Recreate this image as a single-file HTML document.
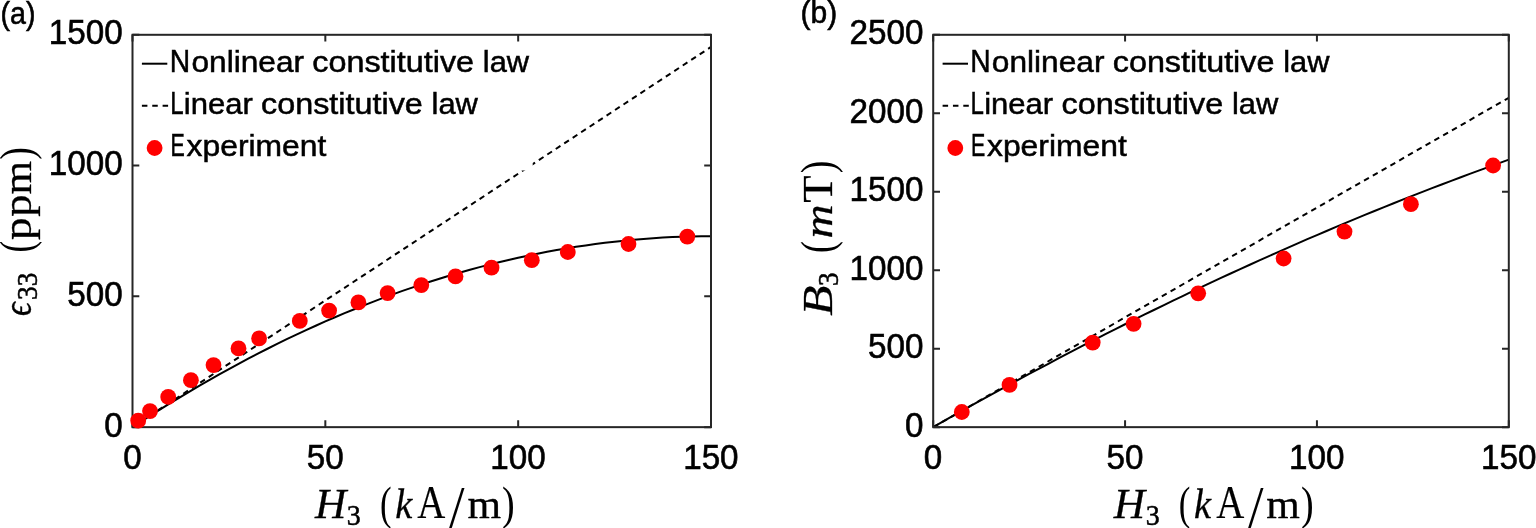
<!DOCTYPE html>
<html lang="en">
<head>
<meta charset="utf-8">
<title>Constitutive law comparison</title>
<style>
html,body{margin:0;padding:0;background:#fff;}
body{width:1536px;height:528px;overflow:hidden;}
svg{display:block;}
text{white-space:pre;}
</style>
</head>
<body>
<svg width="1536" height="528" viewBox="0 0 1536 528" font-family='"Liberation Sans", sans-serif' fill="#000">
<rect width="1536" height="528" fill="#fff"/>
<g id="plot-a">
<g fill="none" stroke="#000" stroke-width="2" stroke-linejoin="round">
<path d="M132.5 427.15 L142.14 420.87 L151.78 414.69 L161.43 408.61 L171.07 402.64 L180.71 396.78 L190.35 391.02 L199.99 385.37 L209.63 379.82 L219.28 374.38 L228.92 369.04 L238.56 363.81 L248.2 358.68 L257.84 353.66 L267.48 348.74 L277.12 343.93 L286.77 339.22 L296.41 334.62 L306.05 330.12 L315.69 325.73 L325.33 321.44 L334.98 317.26 L344.62 313.18 L354.26 309.21 L363.9 305.34 L373.54 301.58 L383.18 297.92 L392.82 294.37 L402.47 290.93 L412.11 287.58 L421.75 284.35 L431.39 281.22 L441.03 278.19 L450.68 275.27 L460.32 272.45 L469.96 269.74 L479.6 267.14 L489.24 264.64 L498.88 262.24 L508.52 259.95 L518.17 257.77 L527.81 255.68 L537.45 253.71 L547.09 251.84 L556.73 250.07 L566.38 248.41 L576.02 246.86 L585.66 245.41 L595.3 244.07 L604.94 242.83 L614.58 241.69 L624.23 240.66 L633.87 239.74 L643.51 238.92 L653.15 238.21 L662.79 237.6 L672.43 237.09 L682.08 236.69 L691.72 236.4 L701.36 236.21 L711 236.13"/>
<path d="M132.5 427.15 L711 46.96" stroke-dasharray="5.6 4.53"/>
</g>
<rect x="140" y="44" width="392.7" height="126.5" fill="#fff"/>
<g fill="none" stroke="#262626" stroke-width="2">
<rect x="132.5" y="34.8" width="578.5" height="392.35"/>
<path d="M132.5 427.15v-6.8M132.5 34.8v6.8M325.33 427.15v-6.8M325.33 34.8v6.8M518.17 427.15v-6.8M518.17 34.8v6.8M711 427.15v-6.8M711 34.8v6.8M132.5 427.15h6.8M711 427.15h-6.8M132.5 296.37h6.8M711 296.37h-6.8M132.5 165.58h6.8M711 165.58h-6.8M132.5 34.8h6.8M711 34.8h-6.8"/>
</g>
<g fill="#f00">
<circle cx="138.2" cy="420.7" r="7.9"/>
<circle cx="150" cy="411.1" r="7.9"/>
<circle cx="168.2" cy="396.9" r="7.9"/>
<circle cx="190.9" cy="380.2" r="7.9"/>
<circle cx="213.5" cy="365.1" r="7.9"/>
<circle cx="238.5" cy="348.4" r="7.9"/>
<circle cx="259.1" cy="338.4" r="7.9"/>
<circle cx="299.8" cy="320.9" r="7.9"/>
<circle cx="329.1" cy="310.6" r="7.9"/>
<circle cx="358.4" cy="302.4" r="7.9"/>
<circle cx="387.6" cy="293.1" r="7.9"/>
<circle cx="421.3" cy="285.1" r="7.9"/>
<circle cx="455.5" cy="276.4" r="7.9"/>
<circle cx="491.5" cy="267.7" r="7.9"/>
<circle cx="531.8" cy="260.2" r="7.9"/>
<circle cx="567.8" cy="252" r="7.9"/>
<circle cx="628.5" cy="244" r="7.9"/>
<circle cx="687.3" cy="236.6" r="7.9"/>
</g>
<g class="legend">
<path d="M141.9 63.7h25.4" stroke="#000" stroke-width="2" fill="none"/>
<path d="M141.9 105.8h26.2" stroke="#000" stroke-width="1.9" stroke-dasharray="5.5 4.85" fill="none"/>
<circle cx="154.6" cy="148" r="7.9" fill="#f00"/>
<text y="72" font-size="29.8" stroke="#000" stroke-width="0.5"><tspan x="169.84" font-size="32" textLength="20.41" lengthAdjust="spacingAndGlyphs">N</tspan><tspan x="191.46" textLength="112.59" lengthAdjust="spacingAndGlyphs">onlinear</tspan> <tspan x="312.34" textLength="161.72" lengthAdjust="spacingAndGlyphs">constitutive</tspan> <tspan x="482.83" textLength="46.2" lengthAdjust="spacingAndGlyphs">law</tspan></text>
<text y="114" font-size="29.8" stroke="#000" stroke-width="0.5"><tspan x="170.17" font-size="32" textLength="13.38" lengthAdjust="spacingAndGlyphs">L</tspan><tspan x="183.81" textLength="68.99" lengthAdjust="spacingAndGlyphs">inear</tspan> <tspan x="261.09" textLength="161.72" lengthAdjust="spacingAndGlyphs">constitutive</tspan> <tspan x="431.57" textLength="46.3" lengthAdjust="spacingAndGlyphs">law</tspan></text>
<text y="156" font-size="29.8" stroke="#000" stroke-width="0.5"><tspan x="170.48" font-size="32" textLength="14.27" lengthAdjust="spacingAndGlyphs">E</tspan><tspan x="186.6" textLength="139.74" lengthAdjust="spacingAndGlyphs">xperiment</tspan></text>
</g>
<g class="ticks">
<text y="436.55" font-size="35" stroke="#000" stroke-width="0.6"><tspan x="104.25" textLength="18.47" lengthAdjust="spacingAndGlyphs">0</tspan></text>
<text y="305.77" font-size="35" stroke="#000" stroke-width="0.6"><tspan x="67.31" textLength="55.42" lengthAdjust="spacingAndGlyphs">500</tspan></text>
<text y="174.98" font-size="35" stroke="#000" stroke-width="0.6"><tspan x="48.84" textLength="73.89" lengthAdjust="spacingAndGlyphs">1000</tspan></text>
<text y="44.2" font-size="35" stroke="#000" stroke-width="0.6"><tspan x="48.84" textLength="73.89" lengthAdjust="spacingAndGlyphs">1500</tspan></text>
<text y="468.6" font-size="35" stroke="#000" stroke-width="0.6"><tspan x="123.16" textLength="18.47" lengthAdjust="spacingAndGlyphs">0</tspan></text>
<text y="468.6" font-size="35" stroke="#000" stroke-width="0.6"><tspan x="306.76" textLength="36.95" lengthAdjust="spacingAndGlyphs">50</tspan></text>
<text y="468.6" font-size="35" stroke="#000" stroke-width="0.6"><tspan x="490.33" textLength="55.42" lengthAdjust="spacingAndGlyphs">100</tspan></text>
<text y="468.6" font-size="35" stroke="#000" stroke-width="0.6"><tspan x="683.17" textLength="55.42" lengthAdjust="spacingAndGlyphs">150</tspan></text>
</g>
</g>
<g id="plot-b">
<g fill="none" stroke="#000" stroke-width="2" stroke-linejoin="round">
<path d="M933.2 427.15 L942.79 421.68 L952.39 416.24 L961.98 410.84 L971.57 405.47 L981.17 400.13 L990.76 394.83 L1000.35 389.57 L1009.95 384.34 L1019.54 379.14 L1029.13 373.98 L1038.73 368.85 L1048.32 363.76 L1057.91 358.7 L1067.51 353.67 L1077.1 348.68 L1086.69 343.72 L1096.29 338.8 L1105.88 333.91 L1115.47 329.06 L1125.07 324.24 L1134.66 319.46 L1144.25 314.71 L1153.85 309.99 L1163.44 305.31 L1173.03 300.66 L1182.63 296.05 L1192.22 291.47 L1201.81 286.92 L1211.41 282.41 L1221 277.94 L1230.59 273.5 L1240.19 269.09 L1249.78 264.72 L1259.37 260.38 L1268.97 256.08 L1278.56 251.81 L1288.15 247.57 L1297.75 243.37 L1307.34 239.2 L1316.93 235.07 L1326.53 230.98 L1336.12 226.91 L1345.71 222.88 L1355.31 218.89 L1364.9 214.93 L1374.49 211 L1384.09 207.11 L1393.68 203.25 L1403.27 199.43 L1412.87 195.64 L1422.46 191.89 L1432.05 188.17 L1441.65 184.48 L1451.24 180.83 L1460.83 177.21 L1470.43 173.63 L1480.02 170.08 L1489.61 166.57 L1499.21 163.09 L1508.8 159.65"/>
<path d="M933.2 427.15 L1508.8 97.81" stroke-dasharray="5.6 4.53"/>
</g>
<rect x="940.7" y="44" width="392.7" height="126.5" fill="#fff"/>
<g fill="none" stroke="#262626" stroke-width="2">
<rect x="933.2" y="34.8" width="575.6" height="392.35"/>
<path d="M933.2 427.15v-6.8M933.2 34.8v6.8M1125.07 427.15v-6.8M1125.07 34.8v6.8M1316.93 427.15v-6.8M1316.93 34.8v6.8M1508.8 427.15v-6.8M1508.8 34.8v6.8M933.2 427.15h6.8M1508.8 427.15h-6.8M933.2 348.68h6.8M1508.8 348.68h-6.8M933.2 270.21h6.8M1508.8 270.21h-6.8M933.2 191.74h6.8M1508.8 191.74h-6.8M933.2 113.27h6.8M1508.8 113.27h-6.8M933.2 34.8h6.8M1508.8 34.8h-6.8"/>
</g>
<g fill="#f00">
<circle cx="961.8" cy="412" r="7.9"/>
<circle cx="1009.5" cy="384.9" r="7.9"/>
<circle cx="1092.7" cy="342.6" r="7.9"/>
<circle cx="1133.6" cy="323.8" r="7.9"/>
<circle cx="1198.2" cy="293.3" r="7.9"/>
<circle cx="1283.6" cy="258.5" r="7.9"/>
<circle cx="1344.5" cy="231.6" r="7.9"/>
<circle cx="1410.9" cy="204.2" r="7.9"/>
<circle cx="1493.1" cy="165.5" r="7.9"/>
</g>
<g class="legend">
<path d="M942.6 63.7h25.4" stroke="#000" stroke-width="2" fill="none"/>
<path d="M942.6 105.8h26.2" stroke="#000" stroke-width="1.9" stroke-dasharray="5.5 4.85" fill="none"/>
<circle cx="955.3" cy="148" r="7.9" fill="#f00"/>
<text y="72" font-size="29.8" stroke="#000" stroke-width="0.5"><tspan x="970.24" font-size="32" textLength="20.41" lengthAdjust="spacingAndGlyphs">N</tspan><tspan x="991.86" textLength="112.59" lengthAdjust="spacingAndGlyphs">onlinear</tspan> <tspan x="1112.74" textLength="161.72" lengthAdjust="spacingAndGlyphs">constitutive</tspan> <tspan x="1283.23" textLength="46.2" lengthAdjust="spacingAndGlyphs">law</tspan></text>
<text y="114" font-size="29.8" stroke="#000" stroke-width="0.5"><tspan x="970.57" font-size="32" textLength="13.38" lengthAdjust="spacingAndGlyphs">L</tspan><tspan x="984.21" textLength="68.99" lengthAdjust="spacingAndGlyphs">inear</tspan> <tspan x="1061.49" textLength="161.72" lengthAdjust="spacingAndGlyphs">constitutive</tspan> <tspan x="1231.97" textLength="46.3" lengthAdjust="spacingAndGlyphs">law</tspan></text>
<text y="156" font-size="29.8" stroke="#000" stroke-width="0.5"><tspan x="970.88" font-size="32" textLength="14.27" lengthAdjust="spacingAndGlyphs">E</tspan><tspan x="987" textLength="139.74" lengthAdjust="spacingAndGlyphs">xperiment</tspan></text>
</g>
<g class="ticks">
<text y="436.55" font-size="35" stroke="#000" stroke-width="0.6"><tspan x="904.95" textLength="18.47" lengthAdjust="spacingAndGlyphs">0</tspan></text>
<text y="358.08" font-size="35" stroke="#000" stroke-width="0.6"><tspan x="868.01" textLength="55.42" lengthAdjust="spacingAndGlyphs">500</tspan></text>
<text y="279.61" font-size="35" stroke="#000" stroke-width="0.6"><tspan x="849.54" textLength="73.89" lengthAdjust="spacingAndGlyphs">1000</tspan></text>
<text y="201.14" font-size="35" stroke="#000" stroke-width="0.6"><tspan x="849.54" textLength="73.89" lengthAdjust="spacingAndGlyphs">1500</tspan></text>
<text y="122.67" font-size="35" stroke="#000" stroke-width="0.6"><tspan x="849.54" textLength="73.89" lengthAdjust="spacingAndGlyphs">2000</tspan></text>
<text y="44.2" font-size="35" stroke="#000" stroke-width="0.6"><tspan x="849.54" textLength="73.89" lengthAdjust="spacingAndGlyphs">2500</tspan></text>
<text y="468.6" font-size="35" stroke="#000" stroke-width="0.6"><tspan x="923.86" textLength="18.47" lengthAdjust="spacingAndGlyphs">0</tspan></text>
<text y="468.6" font-size="35" stroke="#000" stroke-width="0.6"><tspan x="1106.49" textLength="36.95" lengthAdjust="spacingAndGlyphs">50</tspan></text>
<text y="468.6" font-size="35" stroke="#000" stroke-width="0.6"><tspan x="1289.1" textLength="55.42" lengthAdjust="spacingAndGlyphs">100</tspan></text>
<text y="468.6" font-size="35" stroke="#000" stroke-width="0.6"><tspan x="1480.97" textLength="55.42" lengthAdjust="spacingAndGlyphs">150</tspan></text>
</g>
</g>
<text y="24.1" font-size="31.5" stroke="#000" stroke-width="0.6"><tspan x="0.56" textLength="34.92" lengthAdjust="spacingAndGlyphs">(a)</tspan></text>
<text y="23.2" font-size="31.5" stroke="#000" stroke-width="0.6"><tspan x="800.49" textLength="36.66" lengthAdjust="spacingAndGlyphs">(b)</tspan></text>
<text font-family='"Liberation Serif", serif' y="517.9"><tspan x="314.93" font-size="43.2" font-style="italic" stroke="#000" stroke-width="0.3" textLength="31.27" lengthAdjust="spacingAndGlyphs">H</tspan><tspan x="346.84" dy="6.9" font-size="28.7" stroke="#000" stroke-width="0.5" textLength="13.99" lengthAdjust="spacingAndGlyphs">3</tspan><tspan> </tspan><tspan x="379.91" dy="-5.7" font-size="47" textLength="11.6" lengthAdjust="spacingAndGlyphs">(</tspan><tspan x="395.15" dy="-1.2" font-size="42" font-style="italic" stroke="#000" stroke-width="0.3" textLength="17.04" lengthAdjust="spacingAndGlyphs">k</tspan><tspan x="417.3" font-size="45.5" stroke="#000" stroke-width="0.2" textLength="28.03" lengthAdjust="spacingAndGlyphs">A</tspan><tspan x="448.05" dy="5.9" font-size="50.1" font-family='"DejaVu Sans", sans-serif' font-weight="200" textLength="17.3" lengthAdjust="spacingAndGlyphs">/</tspan><tspan x="467.47" dy="-5.9" font-size="40.6" stroke="#000" stroke-width="0.3" textLength="33.6" lengthAdjust="spacingAndGlyphs">m</tspan><tspan x="502.11" dy="1.2" font-size="47" textLength="12.66" lengthAdjust="spacingAndGlyphs">)</tspan></text>
<text font-family='"Liberation Serif", serif' y="517.9"><tspan x="1113.83" font-size="43.2" font-style="italic" stroke="#000" stroke-width="0.3" textLength="31.27" lengthAdjust="spacingAndGlyphs">H</tspan><tspan x="1145.74" dy="6.9" font-size="28.7" stroke="#000" stroke-width="0.5" textLength="13.99" lengthAdjust="spacingAndGlyphs">3</tspan><tspan> </tspan><tspan x="1178.81" dy="-5.7" font-size="47" textLength="11.6" lengthAdjust="spacingAndGlyphs">(</tspan><tspan x="1194.05" dy="-1.2" font-size="42" font-style="italic" stroke="#000" stroke-width="0.3" textLength="17.04" lengthAdjust="spacingAndGlyphs">k</tspan><tspan x="1216.2" font-size="45.5" stroke="#000" stroke-width="0.2" textLength="28.03" lengthAdjust="spacingAndGlyphs">A</tspan><tspan x="1246.95" dy="5.9" font-size="50.1" font-family='"DejaVu Sans", sans-serif' font-weight="200" textLength="17.3" lengthAdjust="spacingAndGlyphs">/</tspan><tspan x="1266.38" dy="-5.9" font-size="40.6" stroke="#000" stroke-width="0.3" textLength="33.6" lengthAdjust="spacingAndGlyphs">m</tspan><tspan x="1301.01" dy="1.2" font-size="47" textLength="12.66" lengthAdjust="spacingAndGlyphs">)</tspan></text>
<text font-family='"Liberation Serif", serif' transform="translate(30.7 320) rotate(-90)" y="0"><tspan x="4.07" font-size="40.6" font-style="italic" stroke="#000" stroke-width="0.4" textLength="13.56" lengthAdjust="spacingAndGlyphs">ϵ</tspan><tspan x="20.07" dy="6.3" font-size="28.7" stroke="#000" stroke-width="0.5" textLength="27.34" lengthAdjust="spacingAndGlyphs">33</tspan><tspan> </tspan><tspan x="67.4" dy="-5.1" font-size="47" textLength="11.72" lengthAdjust="spacingAndGlyphs">(</tspan><tspan x="79.94" dy="-1.2" font-size="40.6" stroke="#000" stroke-width="0.3" textLength="22.62" lengthAdjust="spacingAndGlyphs">p</tspan><tspan x="103.16" font-size="40.6" stroke="#000" stroke-width="0.3" textLength="22.18" lengthAdjust="spacingAndGlyphs">p</tspan><tspan x="125.48" font-size="40.6" stroke="#000" stroke-width="0.3" textLength="33.6" lengthAdjust="spacingAndGlyphs">m</tspan><tspan x="160.21" dy="1.2" font-size="47" textLength="12.66" lengthAdjust="spacingAndGlyphs">)</tspan></text>
<text font-family='"Liberation Serif", serif' transform="translate(831.5 320) rotate(-90)" y="0"><tspan x="4.25" font-size="43.2" font-style="italic" stroke="#000" stroke-width="0.3" textLength="30.25" lengthAdjust="spacingAndGlyphs">B</tspan><tspan x="33.97" dy="6.4" font-size="28.7" stroke="#000" stroke-width="0.5" textLength="13.63" lengthAdjust="spacingAndGlyphs">3</tspan><tspan> </tspan><tspan x="66.98" dy="-5.2" font-size="47" textLength="11.96" lengthAdjust="spacingAndGlyphs">(</tspan><tspan x="81.57" dy="-1.2" font-size="40.6" font-style="italic" stroke="#000" stroke-width="0.3" textLength="34.11" lengthAdjust="spacingAndGlyphs">m</tspan><tspan x="117.15" font-size="43.2" stroke="#000" stroke-width="0.3" textLength="27.37" lengthAdjust="spacingAndGlyphs">T</tspan><tspan x="146.81" dy="1.2" font-size="47" textLength="12.66" lengthAdjust="spacingAndGlyphs">)</tspan></text>
</svg>
</body>
</html>
